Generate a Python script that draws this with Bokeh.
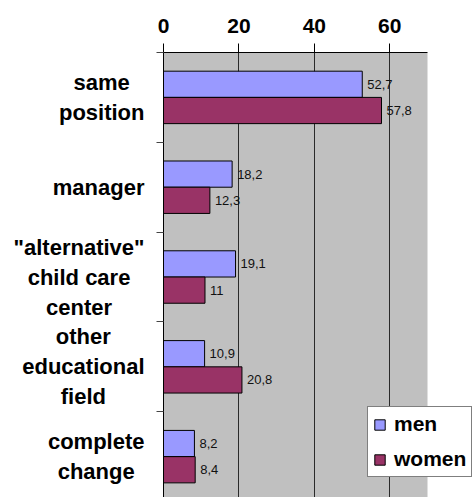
from bokeh.plotting import figure
from bokeh.layouts import row
from bokeh.models import (ColumnDataSource, Range1d, FixedTicker, LabelSet,
                          Legend, LegendItem, BoxAnnotation)
from bokeh.core.properties import value
from bokeh.transform import dodge
from bokeh.embed import file_html
from bokeh.resources import INLINE

categories = ["same\nposition", "manager", "\"alternative\"\nchild care\ncenter",
              "other\neducational\nfield", "complete\nchange"]
men = [52.7, 18.2, 19.1, 10.9, 8.2]
women = [57.8, 12.3, 11.0, 20.8, 8.4]
x_ticks = [0, 20, 40, 60]
x_max = 70

FONT = "Liberation Sans"
CAT_SIZE = 22
# approximate advance widths (1/1000 em) of Liberation Sans Bold, for centring lines
W = dict(a=556, c=556, d=611, e=556, f=333, g=611, h=611, i=278, l=278, m=889,
         n=611, o=611, p=611, r=389, s=556, t=333, u=611, v=556)
W[" "] = 278
W['"'] = 474


def block_width(txt):
    return max(sum(W.get(ch, 556) for ch in ln) for ln in txt.split("\n")) / 1000 * CAT_SIZE


pos = list(range(len(categories)))
fmt = lambda v: f"{v:g}".replace(".", ",")
LEFT_W = 148
LABEL_RIGHT = 144
src = ColumnDataSource(dict(
    pos=pos, men=men, women=women, cat=categories,
    cat_x=[LABEL_RIGHT - block_width(c) / 2 for c in categories],
    men_lbl=[fmt(v) for v in men], women_lbl=[fmt(v) for v in women],
))

y_range = Range1d(len(categories) - 0.545, -0.5)

# ---- left panel holding the category labels
lp = figure(width=LEFT_W, height=497, output_backend="svg", toolbar_location=None,
            x_range=Range1d(0, LEFT_W), y_range=y_range,
            x_axis_type=None, y_axis_type=None,
            min_border_left=0, min_border_right=0, min_border_top=52,
            min_border_bottom=0)
lp.outline_line_color = None
lp.grid.grid_line_color = None
lp.background_fill_color = "white"
lp.border_fill_color = "white"
lp.text(x="cat_x", y="pos", text="cat", source=src, text_align="center",
        text_baseline="middle", text_font=value(FONT), text_font_style="bold",
        text_font_size=f"{CAT_SIZE}px", text_line_height=1.2, text_color="black")

# ---- main chart
MAIN_W = 473 - LEFT_W
px_per_unit = (427 - 163) / x_max
x_end = (473 - 163) / px_per_unit
p = figure(width=MAIN_W, height=497, output_backend="svg", toolbar_location=None,
           x_range=Range1d(0, x_end), y_range=y_range,
           x_axis_location="above", min_border_left=163 - LEFT_W,
           min_border_right=0, min_border_top=52, min_border_bottom=0)
p.background_fill_color = "white"
p.border_fill_color = "white"
p.outline_line_color = None
p.add_layout(BoxAnnotation(left=0, right=x_max, fill_color="#C0C0C0",
                           fill_alpha=1, line_color=None, level="image"))

p.ygrid.grid_line_color = None
p.xgrid.grid_line_color = "#2a2a2a"
p.xgrid.grid_line_width = 1
p.xgrid.ticker = FixedTicker(ticks=x_ticks[1:])

xa = p.xaxis[0]
xa.ticker = FixedTicker(ticks=x_ticks)
xa.bounds = (0, x_max)
xa.major_tick_out = 9
xa.major_tick_in = 0
xa.minor_tick_line_color = None
xa.axis_line_color = "black"
xa.major_tick_line_color = "black"
xa.major_label_standoff = 11
xa.major_label_text_font = FONT
xa.major_label_text_font_style = "bold"
xa.major_label_text_font_size = "21px"
xa.major_label_text_color = "black"

ya = p.yaxis[0]
ya.ticker = FixedTicker(ticks=[i - 0.5 for i in range(len(categories) + 1)])
ya.major_label_overrides = {i - 0.5: "" for i in range(len(categories) + 1)}
ya.major_tick_out = 7
ya.major_tick_in = 0
ya.minor_tick_line_color = None
ya.axis_line_color = "black"
ya.major_tick_line_color = "#444444"
ya.major_label_standoff = 0
ya.major_label_text_font_size = "1px"

OFF = 0.146
r_men = p.hbar(y=dodge("pos", -OFF, range=p.y_range), right="men", left=0,
               height=0.292, source=src, fill_color="#9999FF",
               line_color="black", line_width=1)
r_women = p.hbar(y=dodge("pos", OFF, range=p.y_range), right="women", left=0,
                 height=0.292, source=src, fill_color="#993366",
                 line_color="black", line_width=1)

for col, off in (("men", -OFF), ("women", OFF)):
    p.add_layout(LabelSet(x=col, y=dodge("pos", off, range=p.y_range),
                          text=col + "_lbl", source=src, x_offset=5,
                          text_baseline="middle", text_align="left",
                          text_font=value(FONT), text_font_size="13px",
                          text_color="#111111"))

legend = Legend(items=[LegendItem(label="men", renderers=[r_men]),
                       LegendItem(label="women", renderers=[r_women])],
                location=(204, 20))
legend.label_text_font = FONT
legend.label_text_font_style = "bold"
legend.label_text_font_size = "21px"
legend.label_text_color = "black"
legend.glyph_width = 13
legend.glyph_height = 13
legend.label_standoff = 8
legend.padding = 5
legend.spacing = 11
legend.margin = 0
legend.border_line_color = "black"
legend.border_line_width = 1
legend.background_fill_color = "white"
legend.background_fill_alpha = 1
p.add_layout(legend, "center")

layout = row(lp, p)
open("out.html", "w").write(file_html(layout, INLINE))
